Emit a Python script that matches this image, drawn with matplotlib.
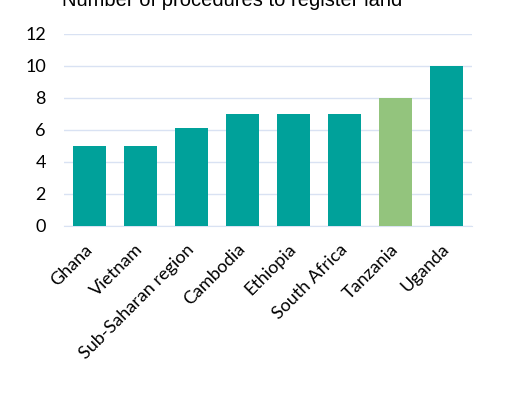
import matplotlib.pyplot as plt

countries = ['Ghana', 'Vietnam', 'Sub-Saharan region', 'Cambodia', 'Ethiopia',
             'South Africa', 'Tanzania', 'Uganda']
procedures = [5, 5, 6.1, 7, 7, 7, 8, 10]
highlight = 'Tanzania'
yticks = [0, 2, 4, 6, 8, 10, 12]

teal = '#00A19A'
green = '#93C47D'
grid_col = '#D9E2F3'

fig = plt.figure(figsize=(5.07, 4.03), dpi=100)
ax = fig.add_axes([64 / 507, 177 / 403, 408 / 507, 192 / 403])

colors = [green if c == highlight else teal for c in countries]
ax.bar(range(len(countries)), procedures, width=0.65, color=colors, zorder=3)

ax.set_xlim(-0.5, len(countries) - 0.5)
ax.set_ylim(0, 12)
ax.set_yticks(yticks)
ax.yaxis.grid(True, color=grid_col, linewidth=1, zorder=0)
for s in ['top', 'right', 'left']:
    ax.spines[s].set_visible(False)
ax.spines['bottom'].set_color(grid_col)
ax.tick_params(axis='both', length=0, labelsize=13)
ax.tick_params(axis='y', pad=13)
ax.tick_params(axis='x', pad=15)
ax.set_xticks(range(len(countries)))
ax.set_xticklabels(countries, rotation=45, ha='right', va='center',
                   rotation_mode='anchor', fontfamily='Lato')
for lab in ax.get_yticklabels():
    lab.set_fontfamily('Lato')

fig.text(232 / 507, 397 / 403, 'Number of procedures to register land',
         ha='center', va='baseline', fontsize=14.5, fontfamily='Liberation Sans')

fig.savefig('out.png', dpi=100)
